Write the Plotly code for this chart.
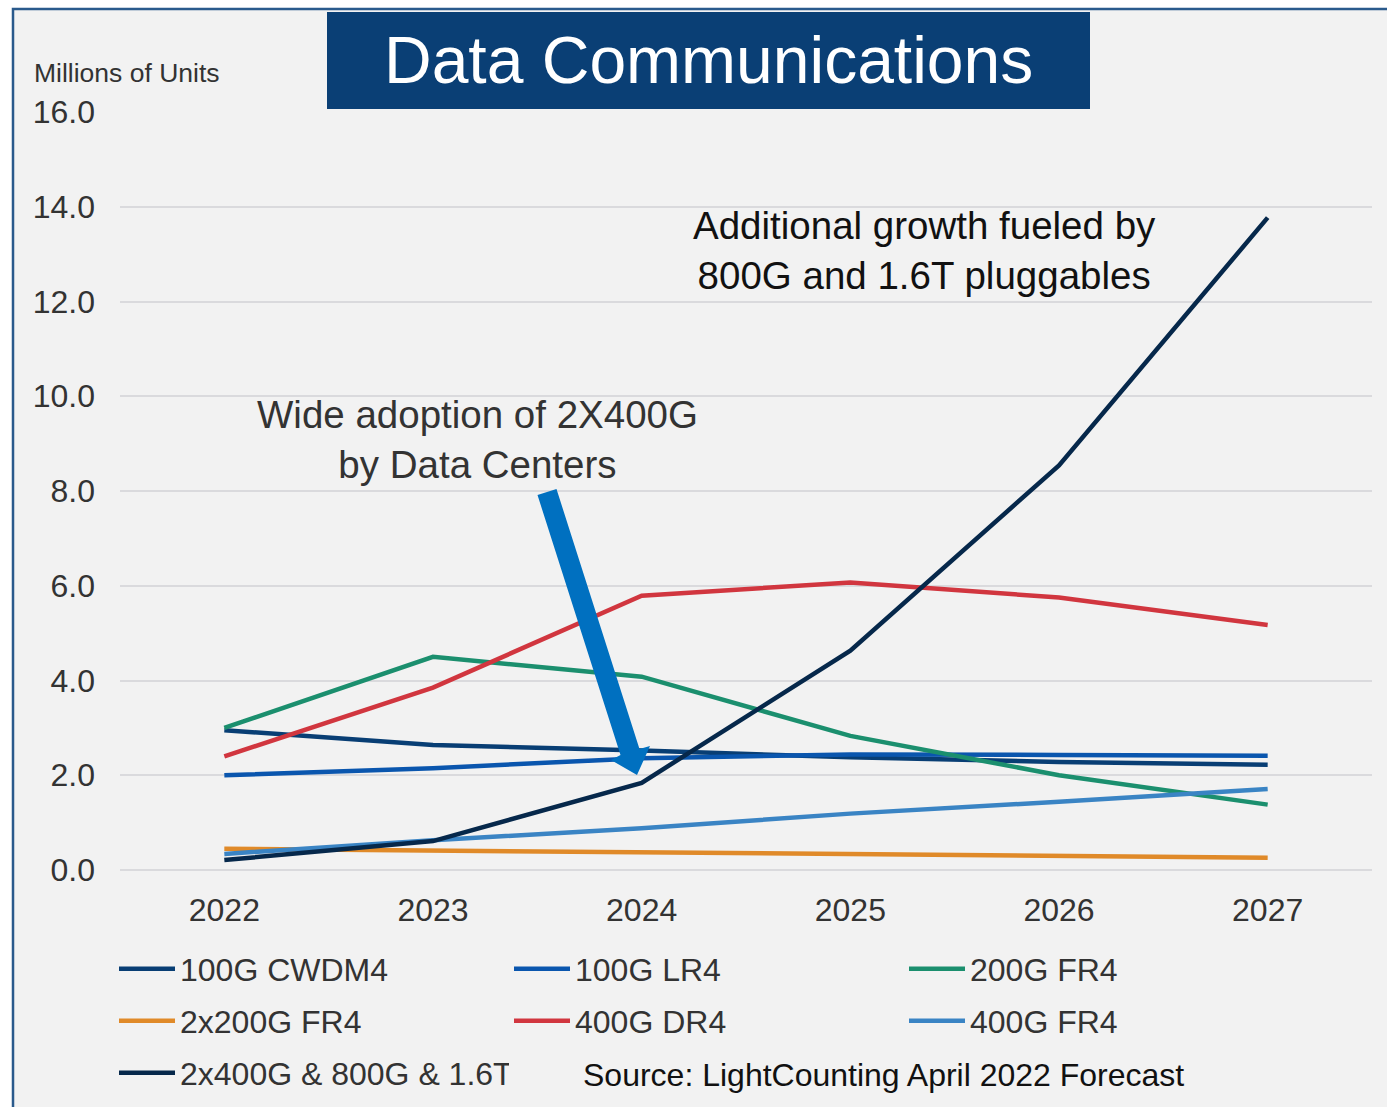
import plotly.graph_objects as go

# ---------------- data ----------------
years = [2022, 2023, 2024, 2025, 2026, 2027]
series_names = ["100G CWDM4", "100G LR4", "200G FR4", "2x200G FR4",
                "400G DR4", "400G FR4", "2x400G & 800G & 1.6T"]
cwdm4_100g = [2.95, 2.64, 2.52, 2.38, 2.28, 2.22]
lr4_100g = [2.00, 2.15, 2.36, 2.44, 2.43, 2.41]
fr4_200g = [3.00, 4.50, 4.08, 2.83, 2.00, 1.38]
fr4_2x200g = [0.45, 0.41, 0.37, 0.32, 0.29, 0.26]
dr4_400g = [2.40, 3.85, 5.79, 6.07, 5.75, 5.17]
fr4_400g = [0.34, 0.63, 0.88, 1.19, 1.44, 1.71]
g2x400_800_1600 = [0.21, 0.61, 1.84, 4.63, 8.54, 13.77]
y_ticks = [0, 2, 4, 6, 8, 10, 12, 14, 16]

values = [cwdm4_100g, lr4_100g, fr4_200g, fr4_2x200g, dr4_400g, fr4_400g, g2x400_800_1600]
colors = ["#083e74", "#0a56ae", "#1b8f6e", "#e08a29", "#d1363f", "#3a84c4", "#06284b"]
legend_of = ["legend", "legend", "legend", "legend2", "legend2", "legend2", "legend3"]

FONT = "Liberation Sans, Arial, sans-serif"
W, H = 1387, 1107
L, R, T, B = 120, 15, 112, 237
PW, PH = W - L - R, H - T - B


def px(x):
    return (x - L) / PW


def py(y):
    return (H - B - y) / PH


fig = go.Figure()
for name, vals, col, lg in zip(series_names, values, colors, legend_of):
    fig.add_trace(go.Scatter(x=years, y=vals, name=name, mode="lines",
                             line=dict(color=col, width=4.5), legend=lg))

shapes = []
# outer frame / background panel
shapes.append(dict(type="rect", xref="paper", yref="paper", layer="below",
                   x0=px(13), x1=px(1500), y0=py(1300), y1=py(9),
                   fillcolor="#f2f2f2", line=dict(color="#2a5a8c", width=2.5)))
# title box
shapes.append(dict(type="rect", xref="paper", yref="paper",
                   x0=px(327), x1=px(1090), y0=py(109), y1=py(12),
                   fillcolor="#0a3f75", line=dict(width=0)))
# big blue arrow (pixel outline converted to paper)
arrow_px = [(537.5, 495), (556.5, 489), (639.5, 749), (650, 746),
            (637, 775), (611, 760), (620.5, 755)]
path = "M " + " L ".join(f"{px(a):.5f},{py(b):.5f}" for a, b in arrow_px) + " Z"
shapes.append(dict(type="path", xref="paper", yref="paper", path=path,
                   fillcolor="#0070c0", line=dict(width=0)))

annotations = [
    dict(text="Data Communications", xref="paper", yref="paper", x=px(708), y=py(60),
         showarrow=False, font=dict(family=FONT, size=66, color="white"),
         xanchor="center", yanchor="middle"),
    dict(text="Millions of Units", xref="paper", yref="paper", x=px(32), y=py(73),
         showarrow=False, font=dict(family=FONT, size=26.5, color="#333333"),
         xanchor="left", yanchor="middle"),
    dict(text="Additional growth fueled by<br>800G and 1.6T pluggables", xref="paper", yref="paper",
         x=px(924), y=py(250), showarrow=False,
         font=dict(family=FONT, size=38.5, color="#111111"),
         xanchor="center", yanchor="middle", align="center"),
    dict(text="Wide adoption of 2X400G<br>by Data Centers", xref="paper", yref="paper",
         x=px(477), y=py(439), showarrow=False,
         font=dict(family=FONT, size=38.5, color="#333333"),
         xanchor="center", yanchor="middle", align="center"),
    dict(text="Source: LightCounting April 2022 Forecast", xref="paper", yref="paper",
         x=px(581), y=py(1075), showarrow=False,
         font=dict(family=FONT, size=32, color="#111111"),
         xanchor="left", yanchor="middle"),
]

legend_common = dict(orientation="h", xref="container", yref="container",
                     xanchor="left", yanchor="middle", bgcolor="rgba(0,0,0,0)",
                     font=dict(family=FONT, size=32, color="#333333"),
                     entrywidth=324, entrywidthmode="pixels", itemwidth=56,
                     traceorder="normal")

fig.update_layout(
    width=W, height=H,
    margin=dict(l=L, r=R, t=T, b=B, autoexpand=False),
    paper_bgcolor="white", plot_bgcolor="rgba(0,0,0,0)",
    showlegend=True,
    shapes=shapes, annotations=annotations,
    legend=dict(**legend_common, x=114 / W, y=1 - 969 / H),
    legend2=dict(**legend_common, x=114 / W, y=1 - 1021 / H),
    legend3=dict(**legend_common, x=114 / W, y=1 - 1073 / H),
    xaxis=dict(range=[2021.5, 2027.5], tickmode="array", tickvals=years,
               ticktext=[str(y) for y in years], showgrid=False, zeroline=False,
               showline=False, ticks="", ticklabelstandoff=18,
               tickfont=dict(family=FONT, size=32, color="#333333")),
    yaxis=dict(range=[0, 16], tickmode="array", tickvals=y_ticks,
               ticktext=[f"{v:.1f}" for v in y_ticks], showgrid=True,
               gridcolor="#dadadd", gridwidth=2, zeroline=True,
               zerolinecolor="#dadadd", zerolinewidth=2, showline=False, ticks="",
               ticklabelstandoff=24,
               tickfont=dict(family=FONT, size=32, color="#333333")),
)

fig.write_html("out.html", config={"displayModeBar": False},
               post_script="document.body.style.margin='0px';")
